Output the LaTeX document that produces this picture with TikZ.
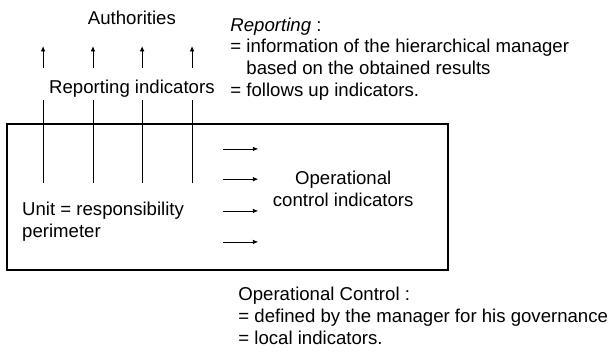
\documentclass[tikz,border=0pt]{standalone}
\usepackage{fontspec}
\setmainfont{Liberation Sans}
\usetikzlibrary{positioning, arrows.meta}

\begin{document}
\begin{tikzpicture}[
  every node/.style={inner sep=0, font=\fontsize{14}{16.3}\selectfont},
  tip/.style={-{Latex[length=4pt, width=3.5pt]}, line width=0.6}
]
\useasboundingbox (0,0) rectangle (16.27,9.42);

% nodes %
\node[draw, line width=1.5, minimum width=11.66cm, minimum height=3.86cm] (unit) at (6.02,4.21) {};
\node[text centered] (auth) at (3.49,8.94) {Authorities};
\node[below = 1.44 of auth, text centered] (repind) {Reporting indicators};
\node[anchor=west, align=left] (repdef) at (6.09,7.86) {\textit{Reporting} :\\= information of the hierarchical manager\\\phantom{= }based on the obtained results\\= follows up indicators.};
\node[anchor=west, align=left] (unitlbl) at (0.58,3.56) {Unit = responsibility\\perimeter};
\node[align=center] (opind) at (9.08,4.42) {Operational\\control indicators};
\node[anchor=west, align=left] (opdef) at (6.30,1.06) {Operational Control :\\= defined by the manager for his governance\\= local indicators.};

% coordinates %
\coordinate (r1b) at (1.14,4.58); \coordinate (r1t) at (1.14,6.77);
\coordinate (r2b) at (2.46,4.58); \coordinate (r2t) at (2.46,6.77);
\coordinate (r3b) at (3.76,4.58); \coordinate (r3t) at (3.76,6.77);
\coordinate (r4b) at (5.08,4.58); \coordinate (r4t) at (5.08,6.77);
\coordinate (u1b) at (1.14,7.62); \coordinate (u1t) at (1.14,8.20);
\coordinate (u2b) at (2.46,7.62); \coordinate (u2t) at (2.46,8.20);
\coordinate (u3b) at (3.76,7.62); \coordinate (u3t) at (3.76,8.20);
\coordinate (u4b) at (5.08,7.62); \coordinate (u4t) at (5.08,8.20);
\coordinate (o1s) at (5.90,5.48); \coordinate (o1e) at (6.83,5.48);
\coordinate (o2s) at (5.90,4.68); \coordinate (o2e) at (6.83,4.68);
\coordinate (o3s) at (5.90,3.84); \coordinate (o3e) at (6.83,3.84);
\coordinate (o4s) at (5.90,3.02); \coordinate (o4e) at (6.83,3.02);

% edges %
\draw[line width= 0.6] (r1b) -- (r1t);
\draw[line width= 0.6] (r2b) -- (r2t);
\draw[line width= 0.6] (r3b) -- (r3t);
\draw[line width= 0.6] (r4b) -- (r4t);
\draw[tip] (u1b) -- (u1t);
\draw[tip] (u2b) -- (u2t);
\draw[tip] (u3b) -- (u3t);
\draw[tip] (u4b) -- (u4t);
\draw[tip] (o1s) -- (o1e);
\draw[tip] (o2s) -- (o2e);
\draw[tip] (o3s) -- (o3e);
\draw[tip] (o4s) -- (o4e);

\end{tikzpicture}
\end{document}
